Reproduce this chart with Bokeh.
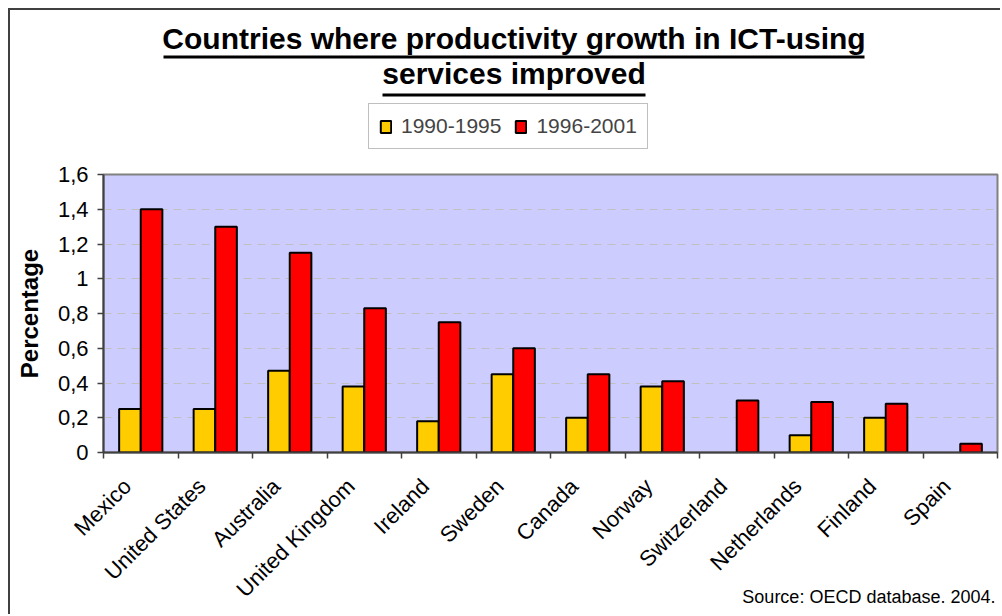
import math
from bokeh.plotting import figure
from bokeh.layouts import column
from bokeh.models import (ColumnDataSource, FixedTicker, CustomJSTickFormatter, Legend,
                          LegendItem, Range1d, Label)
from bokeh.embed import file_html
from bokeh.resources import INLINE

countries = ["Mexico", "United States", "Australia", "United Kingdom", "Ireland", "Sweden",
             "Canada", "Norway", "Switzerland", "Netherlands", "Finland", "Spain"]
p1990_1995 = [0.25, 0.25, 0.47, 0.38, 0.18, 0.45, 0.20, 0.38, 0.0, 0.10, 0.20, 0.0]
p1996_2001 = [1.40, 1.30, 1.15, 0.83, 0.75, 0.60, 0.45, 0.41, 0.30, 0.29, 0.28, 0.05]
y_ticks = [0, 0.2, 0.4, 0.6, 0.8, 1.0, 1.2, 1.4, 1.6]
series_names = ["1990-1995", "1996-2001"]
title_lines = ["Countries where productivity growth in ICT-using", "services improved"]
y_title = "Percentage"
source_note = "Source: OECD database. 2004."

FONT = "Liberation Sans"
BORDER = "2px solid #404040"
W = 992
TH = 150     # header strip height (title + legend)
MH = 456     # main figure height
SH = 30      # source-note strip height (overlaps the bottom of the main figure)
FL, FR = 93, 5   # frame left / right borders (px)
BAR_W = 0.29
COLORS = ["#FFCC00", "#FF0000"]

idx = list(range(len(countries)))
src_a = ColumnDataSource(dict(x=[i + 0.5 - BAR_W / 2 for i in idx if p1990_1995[i] > 0],
                              top=[v for v in p1990_1995 if v > 0]))
src_b = ColumnDataSource(dict(x=[i + 0.5 + BAR_W / 2 for i in idx if p1996_2001[i] > 0],
                              top=[v for v in p1996_2001 if v > 0]))

# ---------- header strip: title + legend (pixel coordinates, y downwards) ----------
t = figure(width=W, height=TH, output_backend="svg", toolbar_location=None,
           x_range=Range1d(FL, W - FR), y_range=Range1d(TH, 0),
           x_axis_type=None, y_axis_type=None,
           min_border_left=FL, min_border_right=FR, min_border_top=0, min_border_bottom=0)
t.outline_line_color = None
t.background_fill_color = "white"
t.border_fill_color = "white"
t.styles = {"border-left": BORDER, "border-top": BORDER}
for txt, yb in zip(title_lines, [40, 75]):
    t.add_layout(Label(x=503.5 - FL, y=TH - yb + 12, x_units="screen", y_units="screen", text=txt,
                       text_font=FONT, text_font_size="30px", text_font_style="bold",
                       text_align="center", text_baseline="alphabetic", text_color="black"))
t.quad(left=[153, 372], right=[854, 635], top=[45, 83], bottom=[48, 86],
       fill_color="black", line_color=None)
# legend entries tied to the series data (renderers hidden in the header strip)
la = t.vbar(x="x", top="top", bottom=0, width=BAR_W, source=src_a,
            fill_color=COLORS[0], line_color="black", line_width=2, visible=False)
lb = t.vbar(x="x", top="top", bottom=0, width=BAR_W, source=src_b,
            fill_color=COLORS[1], line_color="black", line_width=2, visible=False)
legend = Legend(items=[LegendItem(label=series_names[0], renderers=[la]),
                       LegendItem(label=series_names[1], renderers=[lb])],
                orientation="horizontal", location=(358 - FL, TH - 139))
legend.label_text_font = FONT
legend.label_text_font_size = "21px"
legend.glyph_width = 13
legend.glyph_height = 15
legend.label_standoff = 9
legend.spacing = 13
legend.padding = 10
legend.margin = 0
legend.border_line_color = "#808080"
legend.border_line_width = 1
legend.background_fill_color = "white"
legend.background_fill_alpha = 1
legend.inactive_fill_alpha = 0
t.add_layout(legend, "center")

# ---------- main chart ----------
p = figure(width=W, height=MH, output_backend="svg", toolbar_location=None,
           x_range=Range1d(0, len(countries)), y_range=Range1d(0, 1.6),
           min_border_left=FL, min_border_right=FR, min_border_top=16, min_border_bottom=162)
p.styles = {"border-left": BORDER}
p.background_fill_color = "#CCCCFF"
p.border_fill_color = "white"
p.outline_line_color = "#808080"
p.outline_line_width = 2

p.vbar(x="x", top="top", bottom=0, width=BAR_W, source=src_a,
       fill_color=COLORS[0], line_color="black", line_width=2)
p.vbar(x="x", top="top", bottom=0, width=BAR_W, source=src_b,
       fill_color=COLORS[1], line_color="black", line_width=2)

xa = p.xaxis[0]
# label anchors slightly left of the group centres (rotated labels end near the centre)
xa.ticker = FixedTicker(ticks=[i + 0.32 for i in idx], minor_ticks=list(range(len(countries) + 1)))
xa.formatter = CustomJSTickFormatter(args=dict(names=countries),
                                     code="return names[Math.floor(tick)];")
xa.major_tick_out = 0
xa.major_tick_in = 0
xa.minor_tick_out = 6
xa.minor_tick_in = 0
xa.minor_tick_line_color = "#404040"
xa.minor_tick_line_width = 1.5
xa.axis_line_color = "#404040"
xa.axis_line_width = 2
xa.major_label_orientation = math.pi / 4
xa.major_label_text_font = FONT
xa.major_label_text_font_size = "22px"
xa.major_label_text_color = "black"
xa.major_label_standoff = 24

ya = p.yaxis[0]
ya.ticker = FixedTicker(ticks=y_ticks)
ya.formatter = CustomJSTickFormatter(code="return (Math.round(tick*10)/10).toString().replace('.', ',');")
ya.major_tick_out = 6
ya.major_tick_in = 0
ya.minor_tick_out = 0
ya.minor_tick_in = 0
ya.major_tick_line_color = "#404040"
ya.major_tick_line_width = 1.5
ya.axis_line_color = "#404040"
ya.axis_line_width = 2
ya.major_label_text_font = FONT
ya.major_label_text_font_size = "22px"
ya.major_label_text_color = "black"
ya.major_label_standoff = 9
ya.axis_label = y_title
ya.axis_label_text_font = FONT
ya.axis_label_text_font_size = "24px"
ya.axis_label_text_font_style = "bold"
ya.axis_label_text_color = "black"
ya.axis_label_standoff = 12

p.xgrid.grid_line_color = None
p.ygrid.ticker = FixedTicker(ticks=y_ticks[1:-1])
p.ygrid.grid_line_color = "#C0C0C0"
p.ygrid.grid_line_dash = "8 6"
p.ygrid.grid_line_width = 1

# ---------- source note strip (transparent, pulled up over the main figure's bottom) ----------
s = figure(width=W, height=SH, output_backend="svg", toolbar_location=None,
           x_range=Range1d(FL, W - FR), y_range=Range1d(SH, 0),
           x_axis_type=None, y_axis_type=None,
           min_border_left=FL, min_border_right=FR, min_border_top=0, min_border_bottom=0)
s.outline_line_color = None
s.background_fill_alpha = 0
s.border_fill_alpha = 0
s.styles = {"margin-top": f"-{SH}px", "margin-left": "2px"}
s.add_layout(Label(x=985 - FL, y=SH - 16 + 4, x_units="screen", y_units="screen", text=source_note,
                   text_font=FONT, text_font_size="18px", text_align="right",
                   text_baseline="alphabetic", text_color="black"))

root = column(column(t, p, s, spacing=0), styles={"padding-left": "8px", "padding-top": "8px"})
open("out.html", "w").write(file_html(root, INLINE))
